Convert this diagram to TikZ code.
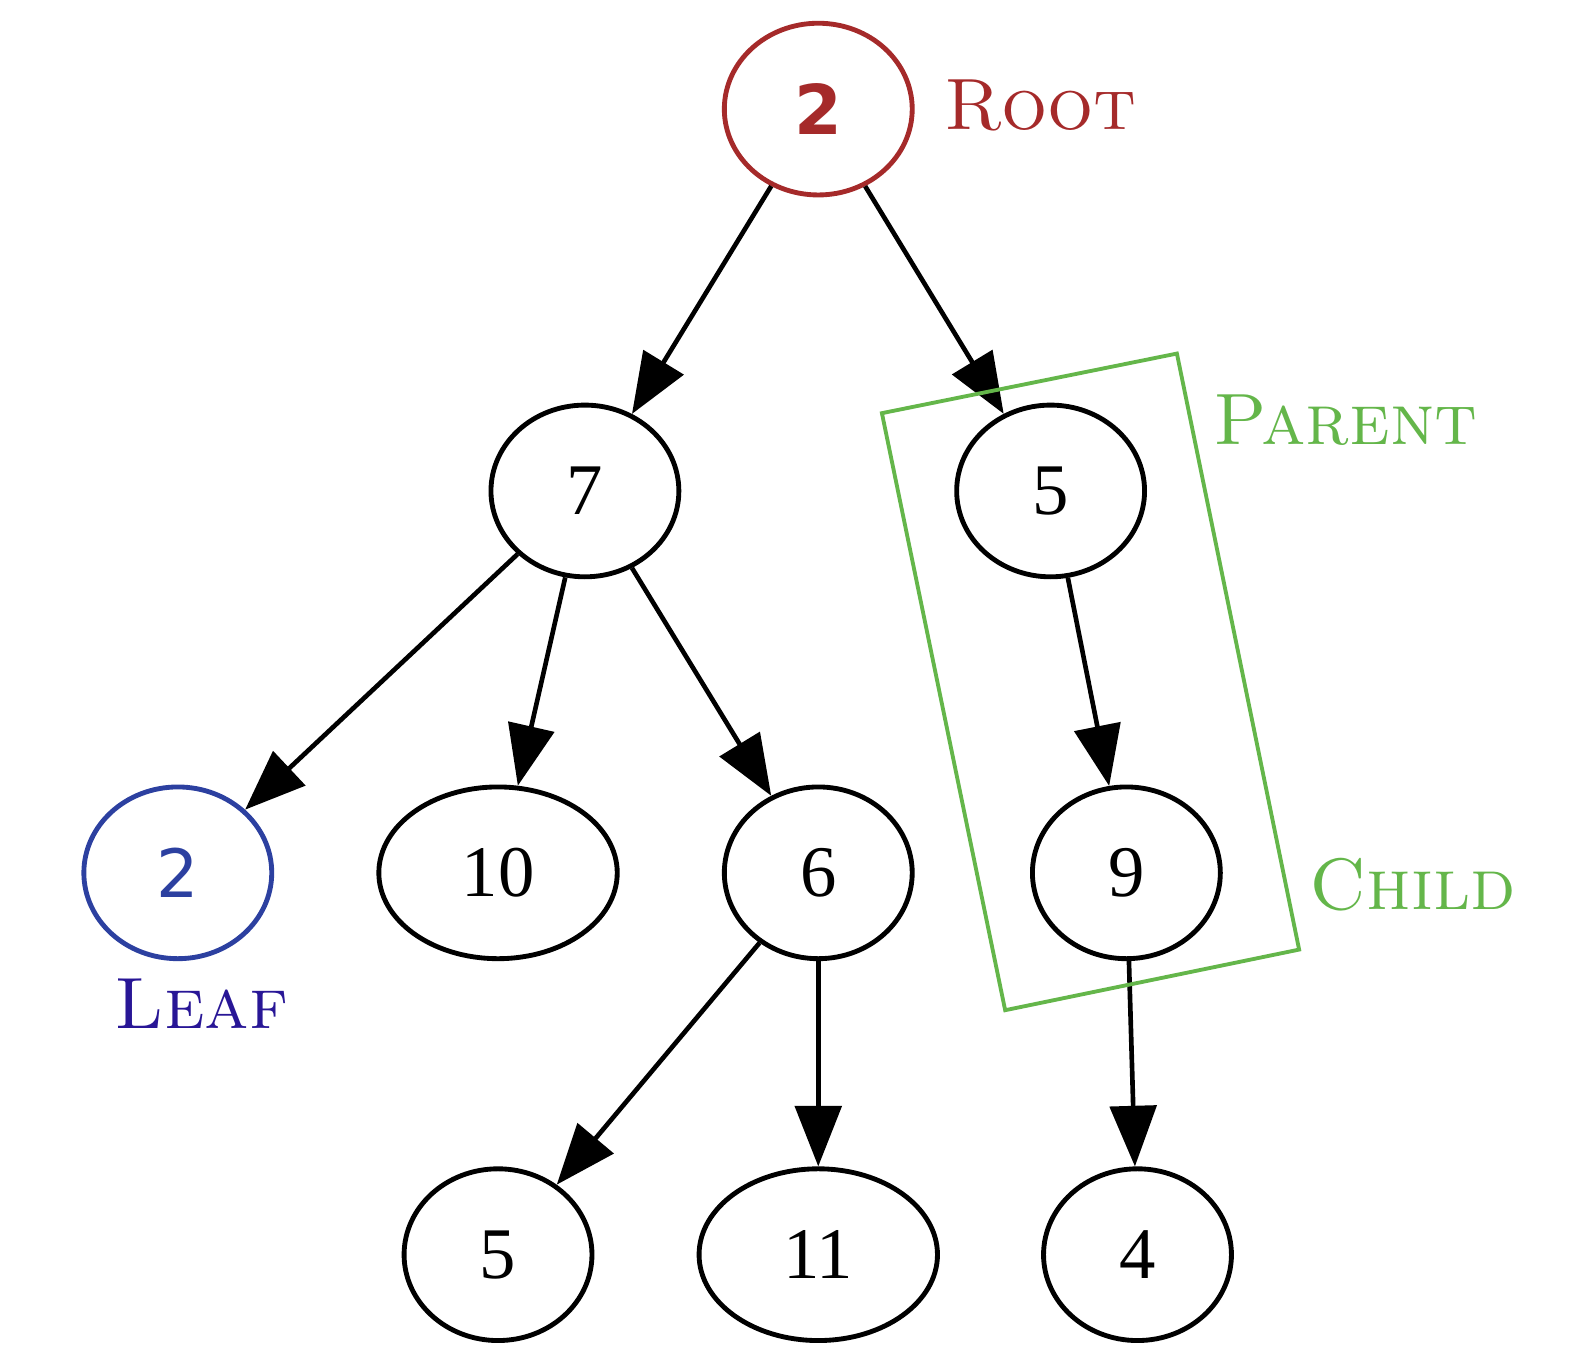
\documentclass[tikz,border=0pt]{standalone}
\usepackage{fontspec}
\newfontfamily\numfont{Liberation Serif}
\newfontfamily\sansnum{DejaVu Sans}
\usetikzlibrary{shapes.geometric,arrows.meta}
\definecolor{rootred}{RGB}{165,42,42}
\definecolor{leafblue}{RGB}{44,64,160}
\definecolor{leafink}{RGB}{40,22,150}
\definecolor{pairgreen}{RGB}{100,182,74}
\tikzset{
  treenode/.style={ellipse, draw, line width=2.4pt, inner sep=0pt,
    minimum width=93pt, minimum height=85pt,
    font=\numfont\fontsize{36}{40}\selectfont},
  widenode/.style={treenode, minimum width=118pt},
  edge/.style={line width=2.3pt, -{Triangle[length=30pt,width=23pt]}},
  tag/.style={font=\fontsize{36}{40}\selectfont, inner sep=0pt}
}
\begin{document}
\begin{tikzpicture}[x=0.5pt, y=-0.5pt, node distance=189pt]
  \useasboundingbox (0,0) rectangle (1568,1347);
  % tree
  \node (root) [treenode, draw=rootred, text=rootred,
    font=\sansnum\bfseries\fontsize{34}{40}\selectfont] at (810,108) {2};
  \node (seven) [treenode, below of=root, xshift=-115.5pt] {7};
  \node (five) [treenode, node distance=230.5pt, right of=seven] {5};
  \node (six) [treenode, below of=seven, xshift=115.5pt] {6};
  \node (ten) [widenode, node distance=158.5pt, left of=six] {10};
  \node (leaf) [treenode, node distance=158.5pt, left of=ten, draw=leafblue,
    text=leafblue, font=\sansnum\fontsize{33}{38}\selectfont] {2};
  \node (nine) [treenode, below of=five, xshift=37.5pt] {9};
  \node (eleven) [widenode, below of=six] {11};
  \node (fivel) [treenode, node distance=158.5pt, left of=eleven] {5};
  \node (four) [treenode, below of=nine, xshift=5.5pt] {4};
  \draw[edge] (root) to (seven);
  \draw[edge] (root) to (five);
  \draw[edge] (seven) to (leaf);
  \draw[edge] (seven) to (ten);
  \draw[edge] (seven) to (six);
  \draw[edge] (five) to (nine);
  \draw[edge] (six) to (fivel);
  \draw[edge] (six) to (eleven);
  \draw[edge] (nine) to (four);
  % parent/child box
  \draw[pairgreen, line width=1.9pt] (873,409) -- (1165,350) -- (1286,940)
    -- (995,1000) -- cycle;
  % labels
  \node (roottag) [tag, anchor=base west, text=rootred] at (935,128) {\textsc{Root}};
  \node (parenttag) [tag, anchor=base west, text=pairgreen] at (1201,440) {\textsc{Parent}};
  \node (childtag) [tag, anchor=base west, text=pairgreen] at (1296,900) {\textsc{Child}};
  \node (leaftag) [tag, anchor=base west, text=leafink] at (113,1018) {\textsc{Leaf}};
\end{tikzpicture}
\end{document}
